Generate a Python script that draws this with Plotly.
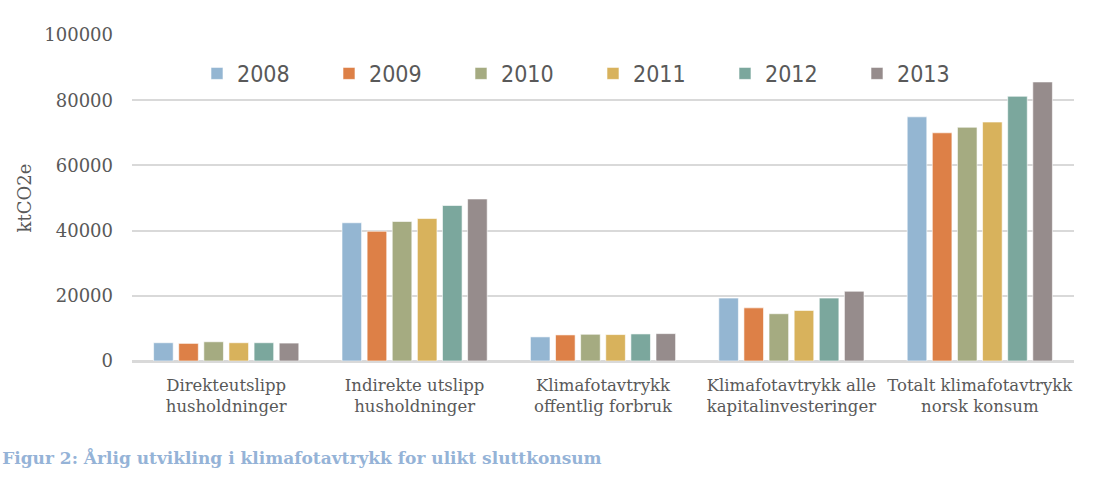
import plotly.graph_objects as go

categories = [
    "Direkteutslipp<br>husholdninger",
    "Indirekte utslipp<br>husholdninger",
    "Klimafotavtrykk<br>offentlig forbruk",
    "Klimafotavtrykk alle<br>kapitalinvesteringer",
    "Totalt klimafotavtrykk<br>norsk konsum",
]
years = ["2008", "2009", "2010", "2011", "2012", "2013"]

v2008 = [5600, 42400, 7400, 19300, 74900]
v2009 = [5400, 39800, 8000, 16300, 70000]
v2010 = [5900, 42800, 8200, 14500, 71700]
v2011 = [5600, 43700, 8100, 15500, 73300]
v2012 = [5600, 47700, 8300, 19300, 81200]
v2013 = [5500, 49700, 8400, 21400, 85600]
series = [v2008, v2009, v2010, v2011, v2012, v2013]

colors = ["#94B6D2", "#DD8047", "#A5AB81", "#D8B25C", "#7BA79D", "#968C8C"]

y_ticks = [0, 20000, 40000, 60000, 80000, 100000]

serif = "DejaVu Serif"
txt = "#595959"

fig = go.Figure()
for yr, vals, c in zip(years, series, colors):
    fig.add_trace(go.Bar(
        name=yr, x=categories, y=vals,
        marker=dict(color=c, line=dict(color="rgba(255,255,255,0.6)", width=1)),
    ))

fig.update_layout(
    width=1096, height=477,
    margin=dict(l=132, r=22, t=35, b=116),
    paper_bgcolor="white", plot_bgcolor="white",
    barmode="group", bargap=0.2, bargroupgap=0.22,
    showlegend=True,
    legend=dict(
        orientation="h", x=0.069, xanchor="left", y=0.882, yanchor="middle",
        font=dict(family="DejaVu Sans Condensed, Liberation Sans Narrow, sans-serif", size=23, color=txt),
        bgcolor="rgba(0,0,0,0)", entrywidth=87, entrywidthmode="pixels",
        itemwidth=30,
    ),
    title=dict(
        text="<b>Figur 2: Årlig utvikling i klimafotavtrykk for ulikt sluttkonsum</b>",
        x=0.002, xanchor="left", xref="container",
        y=0.04, yanchor="middle", yref="container",
        font=dict(family=serif, size=17, color="#95B3D7"),
    ),
    xaxis=dict(
        tickfont=dict(family=serif, size=16.5, color=txt),
        showgrid=False, showline=True, linecolor="#D9D9D9", linewidth=1.5,
        ticks="", ticklabelstandoff=8,
    ),
    yaxis=dict(
        range=[0, 100000], tickvals=y_ticks, ticktext=[str(t) for t in y_ticks],
        tickfont=dict(family=serif, size=18, color=txt),
        showgrid=True, gridcolor="#D9D9D9", gridwidth=1.5,
        zeroline=True, zerolinecolor="#D9D9D9", zerolinewidth=1.5,
        ticks="", ticklabelstandoff=18,
        title=dict(text="ktCO2e", font=dict(family=serif, size=18, color=txt), standoff=7),
    ),
)

fig.write_html("out.html")
